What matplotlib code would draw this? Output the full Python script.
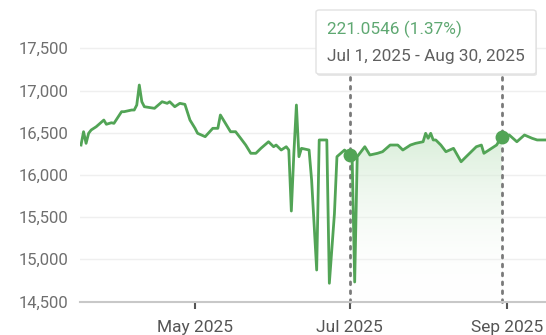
import matplotlib
matplotlib.use("Agg")
import matplotlib.pyplot as plt
import matplotlib.dates as mdates
from matplotlib.patches import FancyBboxPatch
from matplotlib.colors import LinearSegmentedColormap
import numpy as np
import pandas as pd

plt.rcParams['font.family'] = ['Roboto', 'DejaVu Sans']

dates = ["2025-03-17", "2025-03-18", "2025-03-19", "2025-03-20", "2025-03-21", "2025-03-23",
         "2025-03-26", "2025-03-27", "2025-03-29", "2025-03-30", "2025-04-02", "2025-04-03",
         "2025-04-06", "2025-04-07", "2025-04-08", "2025-04-09", "2025-04-10", "2025-04-11",
         "2025-04-15", "2025-04-18", "2025-04-20", "2025-04-21", "2025-04-23", "2025-04-25",
         "2025-04-27", "2025-04-29", "2025-05-01", "2025-05-02", "2025-05-05", "2025-05-08",
         "2025-05-10", "2025-05-11", "2025-05-13", "2025-05-15", "2025-05-17", "2025-05-19",
         "2025-05-21", "2025-05-23", "2025-05-25", "2025-05-27", "2025-05-30", "2025-06-01",
         "2025-06-02", "2025-06-04", "2025-06-06", "2025-06-07", "2025-06-08", "2025-06-09",
         "2025-06-10", "2025-06-11", "2025-06-12", "2025-06-15", "2025-06-16", "2025-06-18",
         "2025-06-19", "2025-06-22", "2025-06-23", "2025-06-25", "2025-06-26", "2025-06-29",
         "2025-07-01", "2025-07-02", "2025-07-03", "2025-07-04", "2025-07-07", "2025-07-09",
         "2025-07-12", "2025-07-14", "2025-07-17", "2025-07-20", "2025-07-22", "2025-07-24",
         "2025-07-25", "2025-07-27", "2025-07-30", "2025-07-31", "2025-08-01", "2025-08-02",
         "2025-08-03", "2025-08-04", "2025-08-06", "2025-08-08", "2025-08-11", "2025-08-14",
         "2025-08-16", "2025-08-18", "2025-08-20", "2025-08-22", "2025-08-23", "2025-08-25",
         "2025-08-28", "2025-08-30", "2025-09-02", "2025-09-05", "2025-09-08", "2025-09-11",
         "2025-09-13", "2025-09-16"]
values = [16354, 16512, 16374, 16493, 16532, 16571,
          16650, 16600, 16618, 16611, 16749, 16749,
          16769, 16769, 16828, 17065, 16867, 16808,
          16789, 16867, 16848, 16867, 16808, 16848,
          16836, 16650, 16552, 16493, 16453, 16552,
          16552, 16710, 16611, 16512, 16512, 16434,
          16354, 16256, 16256, 16315, 16393, 16334,
          16354, 16295, 16334, 16295, 15572, 16256,
          16828, 16216, 16315, 16295, 15940, 14873,
          16414, 16414, 14716, 15537, 16216, 16295,
          16230, 16216, 14731, 16216, 16334, 16236,
          16256, 16275, 16354, 16354, 16295, 16334,
          16354, 16374, 16393, 16493, 16434, 16493,
          16414, 16414, 16354, 16275, 16315, 16156,
          16216, 16275, 16334, 16354, 16256, 16295,
          16354, 16451, 16473, 16393, 16473, 16434,
          16414, 16414]

range_start = "2025-07-01"
range_end = "2025-08-30"
tooltip_value = "221.0546 (1.37%)"
tooltip_range = "Jul 1, 2025 - Aug 30, 2025"
y_ticks = [14500, 15000, 15500, 16000, 16500, 17000, 17500]
x_ticks = ["2025-05-01", "2025-07-01", "2025-09-01"]
x_labels = ["May 2025", "Jul 2025", "Sep 2025"]

GREEN = '#52a456'
GRAY_TXT = '#6f6f6f'

df = pd.DataFrame({"date": pd.to_datetime(dates), "value": values})
x = mdates.date2num(df["date"])
y = df["value"].to_numpy()

W, H = 546, 335
fig = plt.figure(figsize=(W / 100, H / 100), dpi=100)
ax = fig.add_axes([80 / W, (H - 301.5) / H, (W - 80) / W, (301.5 - 30) / H])

ymin, ymax = 14500, 17717
x0 = mdates.date2num(pd.Timestamp("2025-05-01")) - 45.4
x1 = mdates.date2num(pd.Timestamp("2025-05-01")) + 138.5
ax.set_xlim(x0, x1)
ax.set_ylim(ymin, ymax)

# gridlines
for t in y_ticks[1:]:
    ax.axhline(t, color='#efefef', lw=1.0, zorder=0)

# gradient fill between range
xs = mdates.date2num(pd.Timestamp(range_start))
xe = mdates.date2num(pd.Timestamp(range_end))
mask = (x >= xs) & (x <= xe)
fx = x[mask]
fy = y[mask]
poly = ax.fill_between(fx, fy, ymin, color='none', lw=0)
grad = np.linspace(0, 1, 256).reshape(-1, 1)
cmap = LinearSegmentedColormap.from_list('g', [(1, 1, 1, 0.0), (0.80, 0.91, 0.80, 0.75)])
im = ax.imshow(grad, extent=[xs, xe, ymin, fy.max()], origin='lower', aspect='auto',
               cmap=cmap, zorder=1)
path = poly.get_paths()[0]
im.set_clip_path(path, transform=ax.transData)

ax.plot(x, y, color=GREEN, lw=2.0, zorder=3, solid_joinstyle='round')

# vertical dotted lines and dots
for d in [range_start, range_end]:
    xd = mdates.date2num(pd.Timestamp(d))
    ax.plot([xd, xd], [ymin, 17500 + 0.5 * (ymax - 17500) + 60], color='#7a7a7a', lw=2,
            ls=(0, (1, 2.2)), dash_capstyle='round', zorder=2, clip_on=False)
    yd = y[np.argmin(np.abs(x - xd))]
    ax.plot([xd], [yd], 'o', color=GREEN, ms=9, zorder=4)

# axes styling
for s in ['top', 'right', 'left']:
    ax.spines[s].set_visible(False)
ax.spines['bottom'].set_color('#c8c8c8')
ax.spines['bottom'].set_linewidth(1.5)
ax.set_yticks(y_ticks)
ax.set_yticklabels([f"{t:,}" for t in y_ticks])
ax.tick_params(axis='y', length=0, pad=8.5, labelsize=12, labelcolor=GRAY_TXT)
ax.set_xticks([mdates.date2num(pd.Timestamp(t)) for t in x_ticks])
ax.set_xticklabels(x_labels)
ax.tick_params(axis='x', length=5, width=1.5, color='#555555', pad=8, labelsize=12.5,
               labelcolor='#555555')

# tooltip box
bx, by, bw, bh = 316, 10, 220, 64
shadow = FancyBboxPatch(((bx + 1) / W, (H - by - bh - 2) / H), bw / W, bh / H,
                        boxstyle="round,pad=0,rounding_size=0.006",
                        transform=fig.transFigure, facecolor='#d8d8d8', edgecolor='none',
                        alpha=0.6, zorder=9)
box = FancyBboxPatch((bx / W, (H - by - bh) / H), bw / W, bh / H,
                     boxstyle="round,pad=0,rounding_size=0.006",
                     transform=fig.transFigure, facecolor='white', edgecolor='#e2e2e2',
                     lw=1, zorder=10)
fig.add_artist(shadow)
fig.add_artist(box)
fig.text(327 / W, 1 - 29 / H, tooltip_value, color='#5fa872', fontsize=12.4,
         va='center', ha='left', zorder=11)
fig.text(327 / W, 1 - 56 / H, tooltip_range, color='#5f5f5f', fontsize=12.4,
         va='center', ha='left', zorder=11)

fig.savefig("out.png", dpi=100)
